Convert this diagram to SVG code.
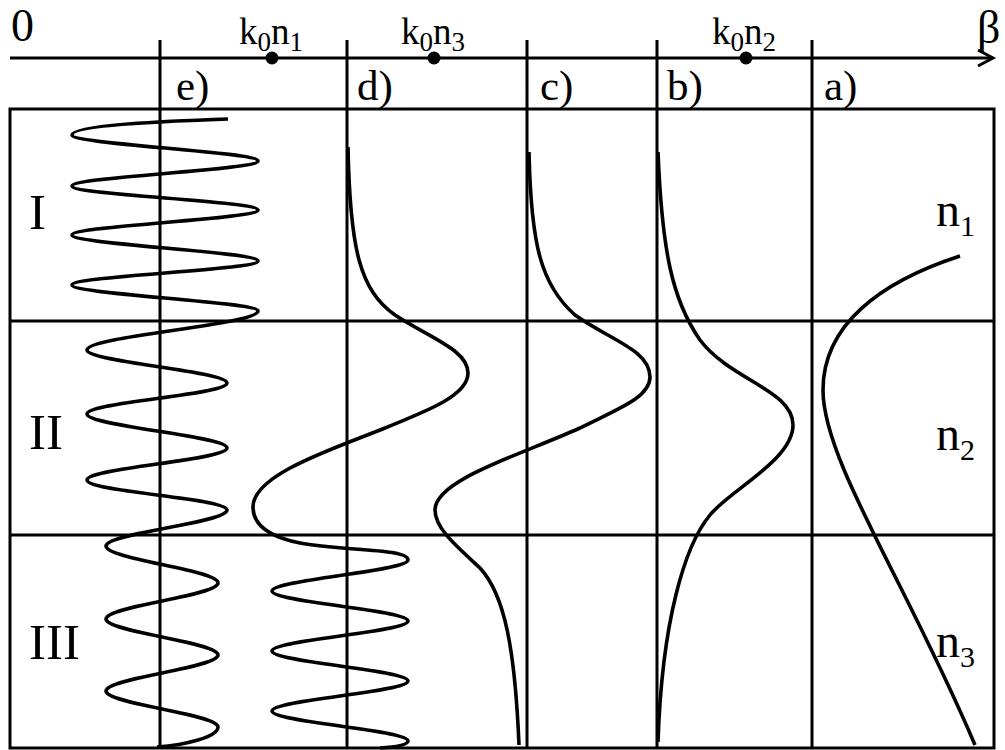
<svg xmlns="http://www.w3.org/2000/svg" width="1005" height="750" viewBox="0 0 1005 750">
<style>
.ln{stroke:#000;stroke-width:3;fill:none}
.cv{stroke:#000;stroke-width:3.6;fill:none;stroke-linejoin:round}
.t{font-family:"Liberation Serif","Times New Roman",serif;fill:#000}
</style>
<rect width="1005" height="750" fill="#fff"/>
<g id="frame">
<rect class="ln" x="10" y="109" width="984" height="639"/>
<line class="ln" x1="10" y1="321" x2="994" y2="321"/>
<line class="ln" x1="10" y1="535" x2="994" y2="535"/>
</g>
<g id="axis">
<line class="ln" x1="10" y1="58" x2="992" y2="58"/>
<polyline class="ln" points="978,50 993,58 978,66"/>
<line class="ln" x1="160" y1="40" x2="160" y2="748"/>
<line class="ln" x1="347" y1="40" x2="347" y2="748"/>
<line class="ln" x1="527" y1="40" x2="527" y2="748"/>
<line class="ln" x1="657" y1="40" x2="657" y2="748"/>
<line class="ln" x1="812" y1="40" x2="812" y2="748"/>
<circle cx="272" cy="58" r="6.5"/>
<circle cx="434" cy="58" r="6.5"/>
<circle cx="746" cy="58" r="6.5"/>
<text class="t" x="11" y="41" font-size="46">0</text>
<text class="t" x="977" y="43" font-size="46">β</text>
<text class="t" x="239" y="44" font-size="37">k<tspan font-size="27" dy="7">0</tspan><tspan dy="-7">n</tspan><tspan font-size="27" dy="7">1</tspan></text>
<text class="t" x="401" y="44" font-size="37">k<tspan font-size="27" dy="7">0</tspan><tspan dy="-7">n</tspan><tspan font-size="27" dy="7">3</tspan></text>
<text class="t" x="712" y="44" font-size="37">k<tspan font-size="27" dy="7">0</tspan><tspan dy="-7">n</tspan><tspan font-size="27" dy="7">2</tspan></text>
</g>
<g id="labels">
<text class="t" x="176" y="100" font-size="43">e)</text>
<text class="t" x="357" y="100" font-size="43">d)</text>
<text class="t" x="540" y="100" font-size="43">c)</text>
<text class="t" x="667" y="100" font-size="43">b)</text>
<text class="t" x="824" y="100" font-size="43">a)</text>
<text class="t" x="29" y="229" font-size="51">I</text>
<text class="t" x="29" y="449" font-size="51">II</text>
<text class="t" x="29" y="659" font-size="51">III</text>
<text class="t" x="936" y="226" font-size="48">n<tspan font-size="30" dy="10">1</tspan></text>
<text class="t" x="936" y="450" font-size="48">n<tspan font-size="30" dy="10">2</tspan></text>
<text class="t" x="936" y="657" font-size="48">n<tspan font-size="30" dy="10">3</tspan></text>
</g>
<g id="curves">
<path id="curve-e" class="cv" d="M228,119 C170,121 72,125 72,135 C72,144 258,152 258,161 C258,170 72,177 72,186 C72,195 258,201 258,210 C258,219 72,226 72,235 C72,244 258,252 258,261 C258,270 72,276 72,285 C72,294 258,302 258,311 C258,325 87,336 87,350 C87,362 227,371 227,383 C227,395 87,402 87,414 C87,426 227,436 227,448 C227,460 87,468 87,480 C87,492 227,498 227,510 C227,523 106,533 106,546 C106,559 218,570 218,583 C218,596 106,606 106,619 C106,632 218,642 218,655 C218,668 106,678 106,691 C106,704 218,714 218,727 C218,737 185,745 157,747"/>
<path id="curve-d" class="cv" d="M348,147 C350,250 360,290 395,315 C430,338 468,350 468,373 C468,395 430,410 380,430 C330,450 253,475 253,507 C253,525 270,537 300,543 C340,551 408,548 408,560 C408,571 272,580 272,591 C272,602 408,610 408,621 C408,632 272,640 272,651 C272,662 408,670 408,681 C408,692 272,700 272,711 C272,722 408,730 408,741 C408,745 395,747 380,748"/>
<path id="curve-c" class="cv" d="M529,152 C531,245 541,285 575,315 C610,340 650,350 650,377 C650,397 620,408 580,428 C520,455 435,480 435,510 C435,528 455,545 480,568 C505,595 515,650 519,745"/>
<path id="curve-b" class="cv" d="M658,152 C662,250 672,300 700,340 C730,380 793,390 793,425 C793,460 730,490 710,515 C685,545 662,620 658,742"/>
<path id="curve-a" class="cv" d="M960,256 C880,282 823,325 823,390 C823,460 905,580 975,745"/>
</g>
</svg>
